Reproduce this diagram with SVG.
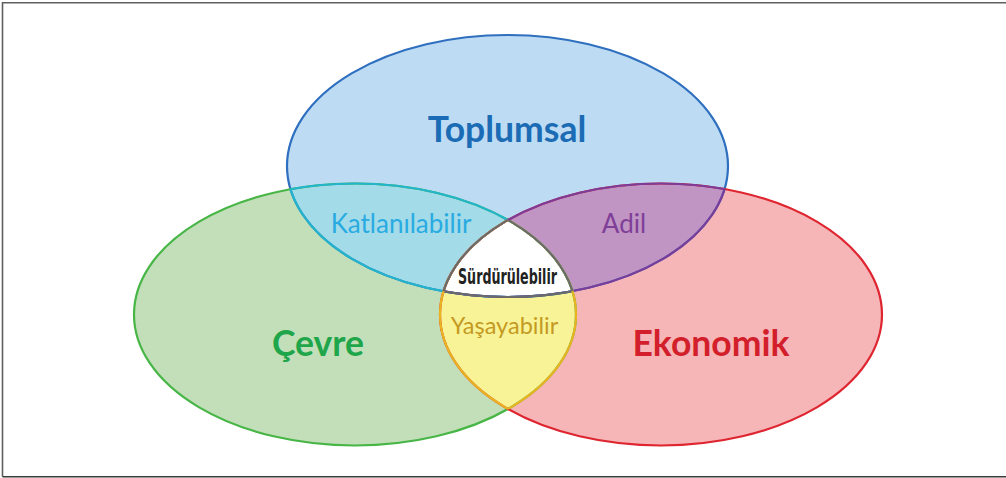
<svg xmlns="http://www.w3.org/2000/svg" xmlns:xlink="http://www.w3.org/1999/xlink" width="1006" height="478" viewBox="0 0 1006 478">
  <style>
    .lbl { font-family: Lato, "Liberation Sans", "DejaVu Sans", sans-serif; text-anchor: middle; }
    .big { font-size: 35.5px; font-weight: bold; }
    .mid { font-size: 26px; font-weight: normal; }
    .sm { font-size: 23.5px; font-weight: normal; }
    .cond { font-family: "Liberation Sans Narrow", "DejaVu Sans Condensed", "Liberation Sans", sans-serif; font-size: 22px; font-weight: 600; text-anchor: middle; }
    .st { fill: none; stroke-width: 2.2; }
  </style>
  <defs>
    <ellipse id="eB" cx="507.5" cy="166" rx="220.5" ry="131"/>
    <ellipse id="eG" cx="355" cy="314.5" rx="221" ry="131"/>
    <ellipse id="eR" cx="661" cy="314.5" rx="221" ry="131"/>
    <clipPath id="cB"><ellipse cx="507.5" cy="166" rx="220.5" ry="131"/></clipPath>
    <clipPath id="cG"><ellipse cx="355" cy="314.5" rx="221" ry="131"/></clipPath>
    <clipPath id="cR"><ellipse cx="661" cy="314.5" rx="221" ry="131"/></clipPath>
  </defs>

  <rect width="1006" height="478" fill="#ffffff"/>
  <g id="frame" fill="none">
    <path d="M1006,2.7 H2.5 V476.8" stroke="#5f5f5f" stroke-width="1.6"/>
    <path d="M2.5,476.8 H1006" stroke="#3a3a3a" stroke-width="1.6"/>
  </g>

  <g id="fills">
    <use xlink:href="#eB" fill="#bddcf3"/>
    <use xlink:href="#eG" fill="#c3dfb9"/>
    <use xlink:href="#eR" fill="#f6b5b7"/>
    <use xlink:href="#eG" fill="#a3dbe9" clip-path="url(#cB)"/>
    <use xlink:href="#eR" fill="#c094c3" clip-path="url(#cB)"/>
    <use xlink:href="#eR" fill="#f8f397" clip-path="url(#cG)"/>
    <g clip-path="url(#cB)"><use xlink:href="#eR" fill="#ffffff" clip-path="url(#cG)"/></g>
  </g>

  <g id="outlines">
    <use xlink:href="#eB" class="st" stroke="#2f6fbf"/>
    <use xlink:href="#eG" class="st" stroke="#47b647"/>
    <use xlink:href="#eR" class="st" stroke="#de2530"/>
    <use xlink:href="#eB" class="st" stroke="#22b5cb" clip-path="url(#cG)"/>
    <use xlink:href="#eB" class="st" stroke="#7b3c9a" clip-path="url(#cR)"/>
    <g clip-path="url(#cG)"><use xlink:href="#eB" class="st" stroke="#6a6a6a" clip-path="url(#cR)"/></g>
    <use xlink:href="#eG" class="st" stroke="#22b5cb" clip-path="url(#cB)"/>
    <use xlink:href="#eG" class="st" stroke="#e9b420" clip-path="url(#cR)"/>
    <g clip-path="url(#cB)"><use xlink:href="#eG" class="st" stroke="#6a6a6a" clip-path="url(#cR)"/></g>
    <use xlink:href="#eR" class="st" stroke="#7b3c9a" clip-path="url(#cB)"/>
    <use xlink:href="#eR" class="st" stroke="#e9b420" clip-path="url(#cG)"/>
    <g clip-path="url(#cB)"><use xlink:href="#eR" class="st" stroke="#6a6a6a" clip-path="url(#cG)"/></g>
  </g>

  <g id="node-toplumsal"><text class="lbl big" x="507" y="142" fill="#1b6bb5">Toplumsal</text></g>
  <g id="node-cevre"><text class="lbl big" x="318" y="356" fill="#1fa64a">Çevre</text></g>
  <g id="node-ekonomik"><text class="lbl big" x="711" y="356" fill="#d21f2b">Ekonomik</text></g>
  <g id="node-katlanilabilir"><text class="lbl mid" x="401" y="233" fill="#29abe2">Katlanılabilir</text></g>
  <g id="node-adil"><text class="lbl mid" x="624" y="233" fill="#7f3f98">Adil</text></g>
  <g id="node-surdurulebilir"><text class="cond" x="507.5" y="284" fill="#222222" textLength="99" lengthAdjust="spacingAndGlyphs">Sürdürülebilir</text></g>
  <g id="node-yasayabilir"><text class="lbl sm" x="504.5" y="333.5" fill="#c49a22">Yaşayabilir</text></g>
</svg>
